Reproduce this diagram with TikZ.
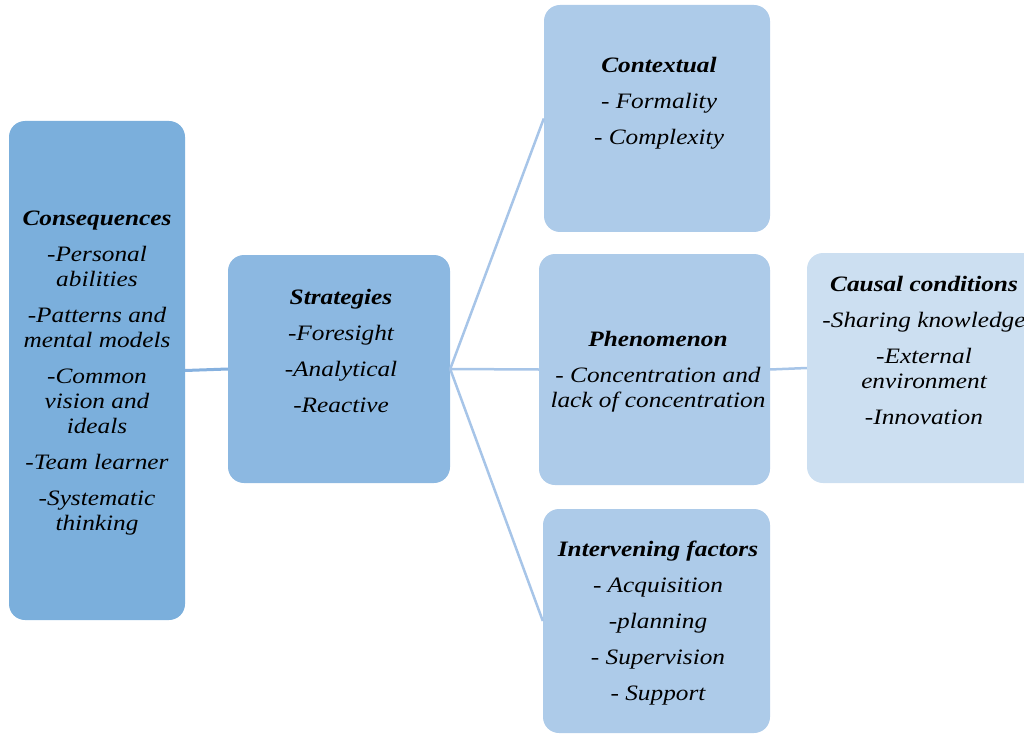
\documentclass[tikz,border=0pt]{standalone}
\usepackage{fontspec}
\setmainfont{Liberation Serif}[FakeStretch=1.15]
\definecolor{cCons}{HTML}{7BAFDC}
\definecolor{cStrat}{HTML}{8CB8E1}
\definecolor{cMid}{HTML}{ADCBE9}
\definecolor{cCause}{HTML}{CCDFF1}
\definecolor{cLineA}{HTML}{86B1DF}
\definecolor{cLineB}{HTML}{A7C5E8}
\tikzset{
  box/.style={rounded corners=16pt, inner sep=0pt, draw=none},
  lbl/.style={align=center, font=\fontsize{22}{25}\selectfont\itshape, inner sep=0pt, anchor=base},
  conn/.style={draw=cLineB, line width=2.5pt},
}
\begin{document}
\begin{tikzpicture}[x=1pt,y=-1pt]
\useasboundingbox (0,0) rectangle (1024,735);
% boxes
\node[box, fill=cCons, minimum width=176pt, minimum height=499pt] (cons) at (97,370.5) {};
\node[box, fill=cStrat, minimum width=222pt, minimum height=228pt] (strat) at (339,369) {};
\node[box, fill=cMid, minimum width=226pt, minimum height=227pt] (ctx) at (657,118.5) {};
\node[box, fill=cMid, minimum width=231pt, minimum height=231pt] (phen) at (654.5,369.5) {};
\node[box, fill=cMid, minimum width=227pt, minimum height=224pt] (interv) at (656.5,621) {};
\node[box, fill=cCause, minimum width=233pt, minimum height=230pt] (cause) at (923.5,368) {};
% connectors
\draw[draw=cLineA, line width=3pt] (cons.east) -- (strat.west);
\draw[conn] (strat.east) -- (ctx.west);
\draw[conn] (strat.east) -- (phen.west);
\draw[conn] (strat.east) -- (interv.west);
\draw[conn] (phen.east) -- (cause.west);
% texts (anchored at the baseline of the last line)
\node[lbl] (tcons) at (97,530) {\textbf{Consequences}\\[11pt]-Personal\\abilities\\[11pt]-Patterns and\\mental models\\[11pt]-Common\\vision and\\ideals\\[11pt]-Team learner\\[11pt]-Systematic\\thinking};
\node[lbl] (tstrat) at (341,412) {\textbf{Strategies}\\[11pt]-Foresight\\[11pt]-Analytical\\[11pt]-Reactive};
\node[lbl] (tctx) at (659,145) {\textbf{Contextual}\\[11pt]- Formality\\[11pt]- Complexity};
\node[lbl] (tphen) at (658,407) {\textbf{Phenomenon}\\[11pt]- Concentration and\\lack of concentration};
\node[lbl] (tcause) at (924,424) {\textbf{Causal conditions}\\[11pt]-Sharing knowledge\\[11pt]-External\\environment\\[11pt]-Innovation};
\node[lbl] (tinterv) at (658,700) {\textbf{Intervening factors}\\[11pt]- Acquisition\\[11pt]-planning\\[11pt]- Supervision\\[11pt]- Support};
\end{tikzpicture}
\end{document}
